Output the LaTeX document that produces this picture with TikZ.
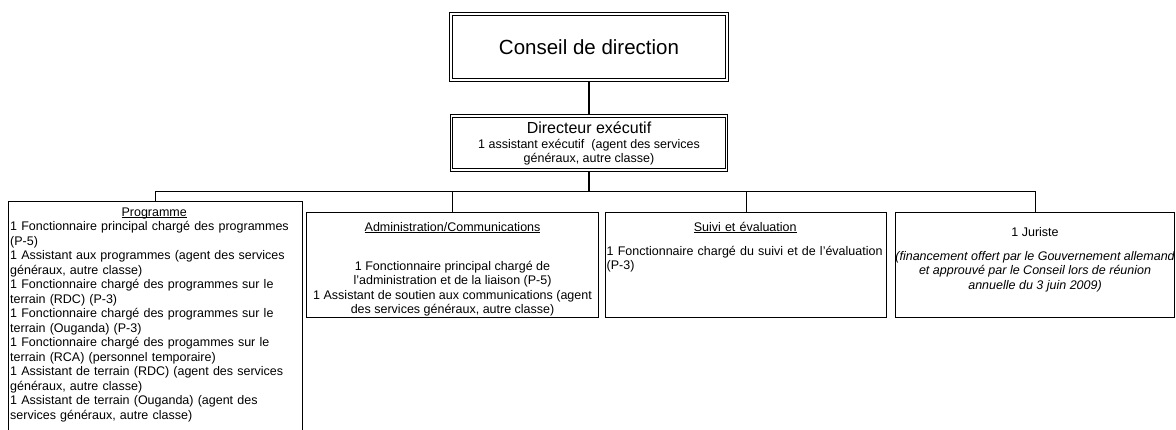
\documentclass[tikz,border=0pt]{standalone}
\usepackage{fontspec}
\setmainfont{Liberation Sans}
\usetikzlibrary{backgrounds}
\newcommand\ulin[1]{\underline{\smash{#1}}\vphantom{(}}
\tikzset{
	box/.style={draw, line width=1.1pt, fill=white, inner sep=0pt},
	dbox/.style={draw, double, double distance=1.5pt, line width=0.9pt, fill=white, inner sep=0pt},
	small/.style={font=\fontsize{12.5}{14.5}\selectfont, inner sep=0pt},
	link/.style={line width=1.1pt}
}

\begin{document}
\begin{tikzpicture}[x=1pt,y=-1pt]
	\useasboundingbox (0,0) rectangle (1176,429);
	\clip (0,0) rectangle (1176,429);

	\node[dbox, minimum width=276pt, minimum height=66pt, font=\fontsize{20.5}{24}\selectfont] (conseil) at (589,47) {Conseil de direction};
	\node[dbox, minimum width=275pt, minimum height=54pt, align=center, font=\fontsize{12.5}{13.5}\selectfont] (directeur) at (589,143)
		{{\fontsize{16}{17}\selectfont Directeur exécutif}\\[2pt] 1 assistant exécutif~ (agent des services\\ généraux, autre classe)};

	\node[box, anchor=north west, minimum width=294pt, minimum height=245pt] (prog) at (8,201) {};
	\node[box, anchor=north west, minimum width=292pt, minimum height=105pt] (admin) at (306,212) {};
	\node[box, anchor=north west, minimum width=281pt, minimum height=105pt] (suivi) at (605,212) {};
	\node[box, anchor=north west, minimum width=279pt, minimum height=105pt] (juriste) at (895,212) {};

	\node[small, anchor=north west, text width=290pt, align=left] (progtxt) at ([xshift=2pt,yshift=-6pt]prog.north west)
		{\makebox[288pt]{\ulin{Programme}}\\
		1 Fonctionnaire principal chargé des programmes\\
		(P-5)\\
		1 Assistant aux programmes (agent des services\\
		généraux, autre classe)\\
		1 Fonctionnaire chargé des programmes sur le\\
		terrain (RDC) (P-3)\\
		1 Fonctionnaire chargé des programmes sur le\\
		terrain (Ouganda) (P-3)\\
		1 Fonctionnaire chargé des progammes sur le\\
		terrain (RCA) (personnel temporaire)\\
		1 Assistant de terrain (RDC) (agent des services\\
		généraux, autre classe)\\
		1 Assistant de terrain (Ouganda) (agent des\\
		services généraux, autre classe)};

	\node[small, anchor=north, align=center] (admintxt) at ([yshift=-10pt]admin.north)
		{\ulin{Administration/Communications}\\[24.5pt]
		1 Fonctionnaire principal chargé de\\
		l’administration et de la liaison (P-5)\\
		1 Assistant de soutien aux communications (agent\\
		des services généraux, autre classe)};

	\node[small, anchor=north west, text width=279pt, align=left] (suivitxt) at ([xshift=1.5pt,yshift=-10pt]suivi.north west)
		{\makebox[277pt]{\ulin{Suivi et évaluation}}\\[9.5pt]
		1 Fonctionnaire chargé du suivi et de l’évaluation\\
		(P-3)};

	\node[small, anchor=north, align=center] (juristetxt) at ([yshift=-15pt]juriste.north)
		{1 Juriste\\[9.5pt]
		\itshape (financement offert par le Gouvernement allemand\\
		\itshape et approuvé par le Conseil lors de réunion\\
		\itshape annuelle du 3 juin 2009)};

	\begin{scope}[on background layer]
		\draw[link] (conseil) -- (directeur);
		\draw[link] (directeur.south) -- ++(0,21) coordinate (bus);
		\foreach \b in {prog,admin,suivi,juriste}
			\draw[link] (bus) -| (\b.north);
	\end{scope}
\end{tikzpicture}
\end{document}
